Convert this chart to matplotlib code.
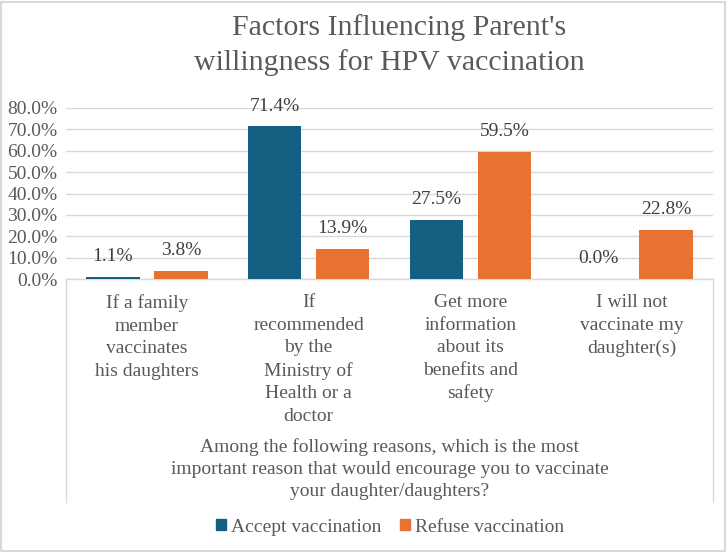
import matplotlib
matplotlib.use("Agg")
import matplotlib.pyplot as plt
from matplotlib.patches import Patch, Rectangle
from matplotlib.lines import Line2D
import numpy as np

plt.rcParams['font.family'] = ['Liberation Serif', 'DejaVu Serif']

# data
categories = ["If a family\nmember\nvaccinates\nhis daughters",
              "If\nrecommended\nby the\nMinistry of\nHealth or a\ndoctor",
              "Get more\ninformation\nabout its\nbenefits and\nsafety",
              "I will not\nvaccinate my\ndaughter(s)"]
accept = [1.1, 71.4, 27.5, 0.0]
refuse = [3.8, 13.9, 59.5, 22.8]
series_names = ["Accept vaccination", "Refuse vaccination"]
yticks = [0, 10, 20, 30, 40, 50, 60, 70, 80]

title_lines = ["Factors Influencing Parent's", "willingness for HPV vaccination"]
axis_title = ("Among the following reasons, which is the most\n"
              "important reason that would encourage you to vaccinate\n"
              "your daughter/daughters?")

BLUE = "#156082"
ORANGE = "#E97132"
GRID = "#D9D9D9"
TXT = "#595959"

W, H = 727, 553
fig = plt.figure(figsize=(W / 100, H / 100), dpi=100)

# plot area in pixels: x 66..713, y 108..279
ax = fig.add_axes([66 / W, 1 - 279 / H, (713 - 66) / W, (279 - 108) / H])

x = np.arange(len(categories))
bw = 0.33
off = 0.21
b1 = ax.bar(x - off, accept, bw, color=BLUE, zorder=3)
b2 = ax.bar(x + off, refuse, bw, color=ORANGE, zorder=3)

for bars, vals in ((b1, accept), (b2, refuse)):
    for r, v in zip(bars, vals):
        ax.annotate(f"{v:.1f}%", (r.get_x() + r.get_width() / 2, v),
                    xytext=(0, 8.5), textcoords="offset points",
                    ha="center", va="bottom", fontsize=14, color="#404040")

ax.set_xlim(-0.5, 3.5)
ax.set_ylim(0, 80)
ax.set_yticks(yticks)
ax.set_yticklabels([f"{t:.1f}%" for t in yticks], fontsize=14, color=TXT)
ax.set_xticks(x)
ax.set_xticklabels(categories, fontsize=14, color=TXT, linespacing=1.42)
ax.tick_params(axis="x", length=0, pad=11)
ax.tick_params(axis="y", length=0, pad=6)
ax.yaxis.grid(True, color=GRID, linewidth=1.0, zorder=0)
ax.set_axisbelow(True)
for s in ["top", "right", "left"]:
    ax.spines[s].set_visible(False)
ax.spines["bottom"].set_color(GRID)
ax.spines["bottom"].set_linewidth(1.0)

# category box side lines below the axis
depth = -(502 - 279) / (279 - 108)
for xx in (0, 1):
    ax.add_line(Line2D([xx, xx], [0, depth], transform=ax.transAxes,
                       color=GRID, linewidth=1.0, clip_on=False))

# title (first line carries a trailing space in the original, so it sits a bit right)
fig.text(399 / W, 1 - 28 / H, title_lines[0], ha="center", va="center",
         fontsize=21.5, color=TXT)
fig.text(389.5 / W, 1 - 63 / H, title_lines[1], ha="center", va="center",
         fontsize=21.5, color=TXT)
fig.text(389.5 / W, 1 - 469 / H, axis_title, ha="center", va="center",
         fontsize=14, color=TXT, linespacing=1.38)

handles = [Patch(color=BLUE, label=series_names[0]),
           Patch(color=ORANGE, label=series_names[1])]
leg = fig.legend(handles=handles, loc="center", ncol=2, frameon=False,
                 bbox_to_anchor=(390 / W, 1 - 527 / H), fontsize=14,
                 handlelength=0.5, handleheight=0.5, handletextpad=0.25,
                 columnspacing=1.0)
for t in leg.get_texts():
    t.set_color(TXT)

fig.patches.append(Rectangle((0.002, 0.003), 0.995, 0.994, transform=fig.transFigure,
                             fill=False, edgecolor=GRID, linewidth=1.5))

fig.savefig("out.png", dpi=100)
